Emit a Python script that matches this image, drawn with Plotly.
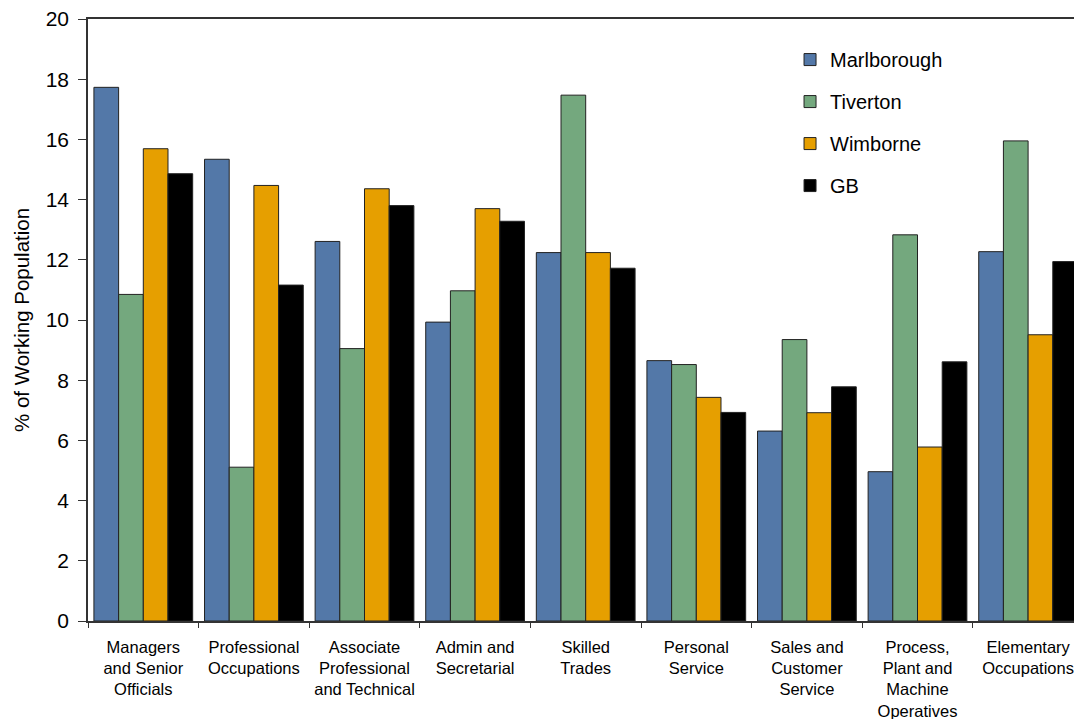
import plotly.graph_objects as go

# Occupation groups (x categories) and share of working population (%)
categories = [
    "Managers<br>and Senior<br>Officials",
    "Professional<br>Occupations",
    "Associate<br>Professional<br>and Technical",
    "Admin and<br>Secretarial",
    "Skilled<br>Trades",
    "Personal<br>Service",
    "Sales and<br>Customer<br>Service",
    "Process,<br>Plant and<br>Machine<br>Operatives",
    "Elementary<br>Occupations",
]

marlborough = [17.73, 15.34, 12.61, 9.93, 12.24, 8.65, 6.31, 4.96, 12.27]
tiverton = [10.85, 5.11, 9.05, 10.97, 17.47, 8.52, 9.35, 12.83, 15.95]
wimborne = [15.69, 14.47, 14.36, 13.70, 12.24, 7.43, 6.92, 5.78, 9.51]
gb = [14.86, 11.16, 13.80, 13.28, 11.72, 6.93, 7.78, 8.61, 11.94]

series = [
    ("Marlborough", marlborough, "#5378A8"),
    ("Tiverton", tiverton, "#74A87E"),
    ("Wimborne", wimborne, "#E69F00"),
    ("GB", gb, "#000000"),
]

FONT = "Arial, 'Liberation Sans', sans-serif"

fig = go.Figure()
for name, vals, color in series:
    fig.add_trace(go.Bar(
        name=name,
        x=categories,
        y=vals,
        legendgroup=name,
        marker=dict(color=color, line=dict(color="#222222", width=1)),
    ))

fig.update_layout(
    width=1074,
    height=719,
    margin=dict(l=88, r=0, t=19, b=98),
    paper_bgcolor="white",
    plot_bgcolor="white",
    font=dict(family=FONT, color="#000000"),
    barmode="group",
    bargap=0.107,
    bargroupgap=0,
    showlegend=True,
    legend=dict(
        x=0.712, y=0.965, xanchor="left", yanchor="top",
        font=dict(size=20, family=FONT),
        bgcolor="rgba(0,0,0,0)",
        tracegroupgap=13,
        traceorder="grouped",
    ),
    annotations=[dict(
        text="% of Working Population",
        xref="paper", yref="paper",
        x=(21 - 88) / 986, y=0.5,
        xanchor="center", yanchor="middle",
        textangle=-90, showarrow=False,
        font=dict(size=20.5, family=FONT, color="#000000"),
    )],
)

fig.update_xaxes(
    type="category",
    range=[-0.5, 8.415],
    showline=True, linecolor="#333333", linewidth=1.5, mirror=True,
    ticks="outside", tickson="boundaries", ticklen=5, tickcolor="#333333",
    tickfont=dict(size=16.5, family=FONT),
    ticklabelstandoff=10,
    showgrid=False, zeroline=False, automargin=False,
    tickangle=0,
)
fig.update_yaxes(
    range=[0, 20], dtick=2,
    showline=True, linecolor="#333333", linewidth=1.5,
    ticks="outside", ticklen=8, tickcolor="#333333",
    tickfont=dict(size=21, family=FONT),
    ticklabelstandoff=5,
    showgrid=False, zeroline=False, automargin=False,
)

fig.write_html("out.html")
